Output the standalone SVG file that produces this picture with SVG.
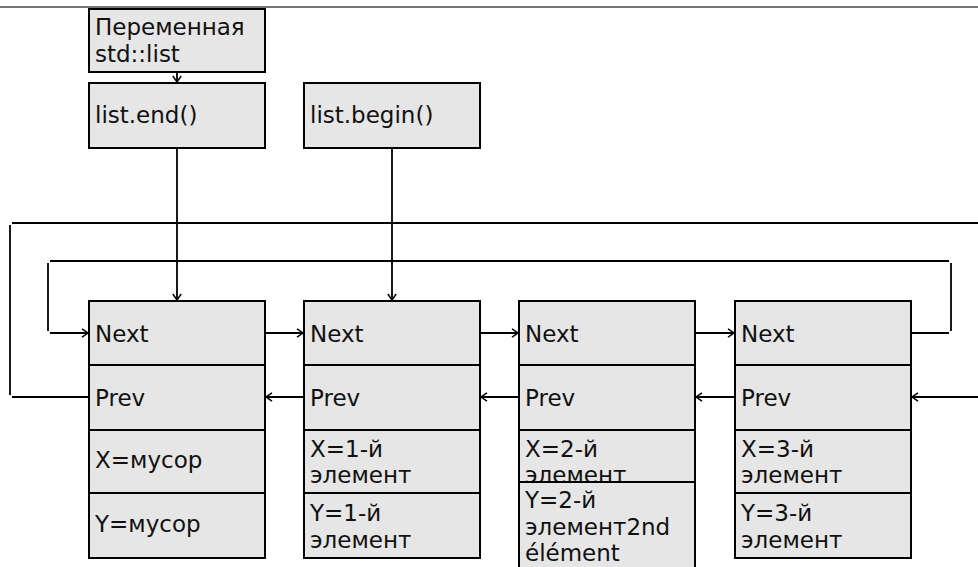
<svg xmlns="http://www.w3.org/2000/svg" width="978" height="567" viewBox="0 0 978 567">
<style>
  .box { fill: #e6e6e6; stroke: #000; stroke-width: 2; }
  .t { font-family: "DejaVu Sans", sans-serif; font-size: 23px; fill: #111; }
  .c { fill: none; stroke: #000; stroke-width: 1.8; }
</style>
<defs>
  <marker id="arr" viewBox="0 0 8 10" refX="7" refY="5" markerWidth="8" markerHeight="10" orient="auto" markerUnits="userSpaceOnUse">
    <path d="M1,0.8 L7,5 L1,9.2" fill="none" stroke="#000" stroke-width="1.5"/>
  </marker>
</defs>
<rect x="0" y="0" width="978" height="567" fill="#fff"/>
<line x1="0" y1="7" x2="978" y2="7" stroke="#777" stroke-width="2"/>

<g id="connectors">
  <line class="c" x1="177" y1="72" x2="177" y2="82" marker-end="url(#arr)"/>
  <line class="c" x1="177" y1="148" x2="177" y2="300" marker-end="url(#arr)"/>
  <line class="c" x1="392" y1="148" x2="392" y2="300" marker-end="url(#arr)"/>
  <line class="c" x1="265" y1="333" x2="303" y2="333" marker-end="url(#arr)"/>
  <line class="c" x1="480" y1="333" x2="518" y2="333" marker-end="url(#arr)"/>
  <line class="c" x1="695" y1="333" x2="734" y2="333" marker-end="url(#arr)"/>
  <line class="c" x1="304" y1="397" x2="266" y2="397" marker-end="url(#arr)"/>
  <line class="c" x1="519" y1="397" x2="481" y2="397" marker-end="url(#arr)"/>
  <line class="c" x1="735" y1="397" x2="696" y2="397" marker-end="url(#arr)"/>
  <line class="c" x1="978" y1="397" x2="912" y2="397" marker-end="url(#arr)"/>
  <!-- outer loop -->
  <line class="c" x1="12" y1="223" x2="978" y2="223"/>
  <line class="c" x1="10" y1="225" x2="10" y2="395"/>
  <line class="c" x1="12" y1="397" x2="89" y2="397"/>
  <!-- inner loop -->
  <line class="c" x1="50" y1="261" x2="949" y2="261"/>
  <line class="c" x1="48" y1="263" x2="48" y2="331"/>
  <line class="c" x1="50" y1="333" x2="88" y2="333" marker-end="url(#arr)"/>
  <line class="c" x1="951" y1="263" x2="951" y2="331"/>
  <line class="c" x1="911" y1="333" x2="949" y2="333"/>
</g>

<g id="var">
  <rect class="box" x="89" y="9" width="176" height="63"/>
  <text class="t" x="95" y="35">Переменная</text>
  <text class="t" x="95" y="62">std::list</text>
</g>
<g id="end">
  <rect class="box" x="89" y="83" width="176" height="65"/>
  <text class="t" x="95" y="123">list.end()</text>
</g>
<g id="begin">
  <rect class="box" x="304" y="83" width="176" height="65"/>
  <text class="t" x="310" y="123">list.begin()</text>
</g>

<g id="node1">
  <rect class="box" x="89" y="301" width="176" height="64"/>
  <rect class="box" x="89" y="365" width="176" height="65"/>
  <rect class="box" x="89" y="430" width="176" height="63"/>
  <rect class="box" x="89" y="493" width="176" height="65"/>
  <text class="t" x="95" y="342">Next</text>
  <text class="t" x="95" y="406">Prev</text>
  <text class="t" x="95" y="468">X=мусор</text>
  <text class="t" x="95" y="532">Y=мусор</text>
</g>
<g id="node2">
  <rect class="box" x="304" y="301" width="176" height="64"/>
  <rect class="box" x="304" y="365" width="176" height="65"/>
  <rect class="box" x="304" y="430" width="176" height="63"/>
  <rect class="box" x="304" y="493" width="176" height="65"/>
  <text class="t" x="310" y="342">Next</text>
  <text class="t" x="310" y="406">Prev</text>
  <text class="t" x="310" y="457">X=1-й</text>
  <text class="t" x="310" y="483">элемент</text>
  <text class="t" x="310" y="521">Y=1-й</text>
  <text class="t" x="310" y="548">элемент</text>
</g>
<g id="node3">
  <rect class="box" x="519" y="301" width="176" height="64"/>
  <rect class="box" x="519" y="365" width="176" height="65"/>
  <rect class="box" x="519" y="430" width="176" height="63"/>
  <text class="t" x="525" y="342">Next</text>
  <text class="t" x="525" y="406">Prev</text>
  <text class="t" x="525" y="457">X=2-й</text>
  <text class="t" x="525" y="483">элемент</text>
  <rect class="box" x="519" y="482" width="176" height="100"/>
  <text class="t" x="525" y="508">Y=2-й</text>
  <text class="t" x="525" y="535">элемент2nd</text>
  <text class="t" x="525" y="561">élément</text>
</g>
<g id="node4">
  <rect class="box" x="735" y="301" width="176" height="64"/>
  <rect class="box" x="735" y="365" width="176" height="65"/>
  <rect class="box" x="735" y="430" width="176" height="63"/>
  <rect class="box" x="735" y="493" width="176" height="65"/>
  <text class="t" x="741" y="342">Next</text>
  <text class="t" x="741" y="406">Prev</text>
  <text class="t" x="741" y="457">X=3-й</text>
  <text class="t" x="741" y="483">элемент</text>
  <text class="t" x="741" y="521">Y=3-й</text>
  <text class="t" x="741" y="548">элемент</text>
</g>
</svg>
